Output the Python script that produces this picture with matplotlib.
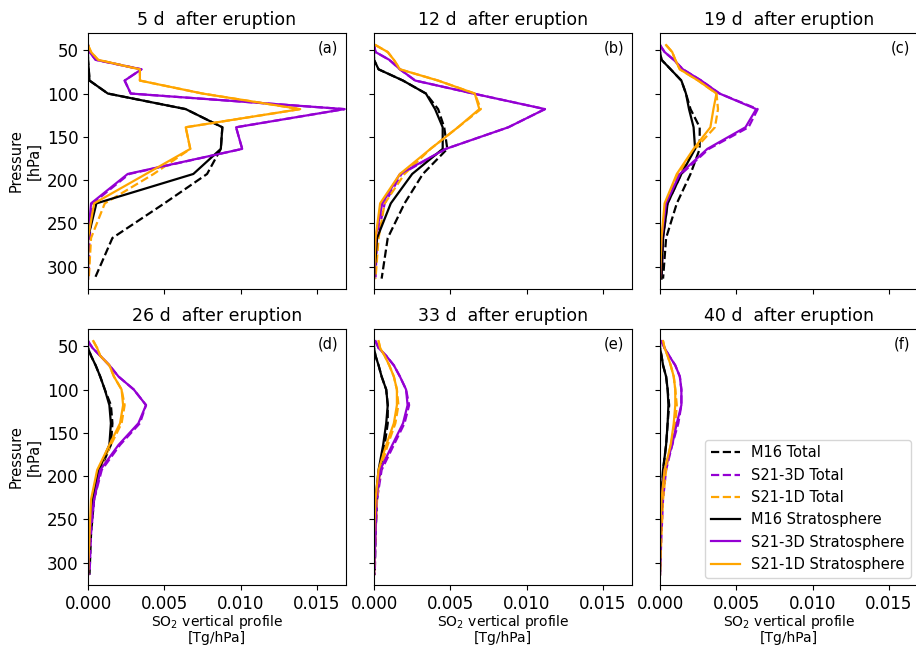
import matplotlib
matplotlib.use("Agg")
import matplotlib.pyplot as plt

# Pressure levels [hPa]
levels = [44, 52, 61, 72, 85, 100, 118, 139, 164, 193, 227, 267, 314]

days = [5, 12, 19, 26, 33, 40]
panel_tags = ["(a)", "(b)", "(c)", "(d)", "(e)", "(f)"]

# SO2 vertical profiles [Tg/hPa], one profile per day (5, 12, 19, 26, 33, 40 d)
m16_total = [
    [0, 0, 0, 0.00005, 0.0001, 0.0013, 0.0064, 0.0088, 0.0087, 0.0078, 0.0050, 0.0016, 0.00044],
    [0, 0, 0.0, 0.0003, 0.0019, 0.0034, 0.0042, 0.0046, 0.0048, 0.0032, 0.0020, 0.0009, 0.0005],
    [0, 0, 0.0001, 0.0007, 0.0014, 0.0017, 0.0020, 0.0026, 0.0026, 0.0020, 0.0011, 0.0004, 0.0002],
    [0, 0, 0.0002, 0.0005, 0.0008, 0.0011, 0.0015, 0.0016, 0.0015, 0.0008, 0.0004, 0.0002, 0.0001],
    [0, 0, 0.0001, 0.0003, 0.0005, 0.0008, 0.0009, 0.0009, 0.0007, 0.0004, 0.0002, 0.0001, 0.00005],
    [0, 0, 0.0001, 0.0002, 0.0004, 0.0005, 0.0006, 0.0005, 0.0004, 0.0002, 0.0001, 0.00005, 0.0],
]
s3d_total = [
    [0, 0.0001, 0.0005, 0.0035, 0.0024, 0.0028, 0.0168, 0.0097, 0.0101, 0.0027, 0.0003, 0.0001, 0.00005],
    [0, 0.0001, 0.0010, 0.0017, 0.0027, 0.0065, 0.0112, 0.0088, 0.0047, 0.0018, 0.0007, 0.0002, 0.0001],
    [0, 0.0003, 0.0009, 0.0015, 0.0027, 0.0039, 0.0064, 0.0058, 0.0032, 0.0014, 0.0005, 0.0002, 0.0001],
    [0, 0.0003, 0.0008, 0.0014, 0.0020, 0.0030, 0.0038, 0.0034, 0.0021, 0.0009, 0.0004, 0.0002, 0.0001],
    [0.0001, 0.0003, 0.0008, 0.0013, 0.0017, 0.0021, 0.0023, 0.0020, 0.0013, 0.0005, 0.0002, 0.0001, 0.00005],
    [0.0001, 0.0003, 0.0006, 0.0010, 0.0013, 0.0014, 0.0014, 0.0012, 0.0008, 0.0004, 0.0002, 0.0001, 0.0],
]
s1d_total = [
    [0, 0.0002, 0.00066, 0.0034, 0.0034, 0.0075, 0.0139, 0.0064, 0.0067, 0.0043, 0.0011, 0.0002, 0.00005],
    [0.0001, 0.0009, 0.0013, 0.0017, 0.0042, 0.0066, 0.0070, 0.0055, 0.0037, 0.0020, 0.0007, 0.0003, 0.0001],
    [0.0004, 0.0008, 0.0010, 0.0013, 0.0025, 0.0037, 0.0038, 0.0036, 0.0023, 0.0012, 0.0004, 0.0001, 0.00005],
    [0.00035, 0.0006, 0.0008, 0.0014, 0.0017, 0.0022, 0.0024, 0.0022, 0.0015, 0.0007, 0.0003, 0.0001, 0.0],
    [0.0003, 0.0004, 0.0007, 0.0010, 0.0013, 0.0015, 0.0016, 0.0014, 0.0009, 0.0004, 0.0002, 0.0001, 0.0],
    [0.0002, 0.0003, 0.0005, 0.0007, 0.0009, 0.0010, 0.0011, 0.0010, 0.0007, 0.0004, 0.0002, 0.0001, 0.0],
]
m16_strat = [
    [0, 0, 0, 0.00005, 0.0001, 0.0013, 0.0064, 0.0088, 0.0087, 0.0069, 0.00055, 0.0, 0.0],
    [0, 0, 0.0, 0.0003, 0.0019, 0.0034, 0.0040, 0.0045, 0.0045, 0.0025, 0.0011, 0.0002, 0.0],
    [0, 0, 0.0001, 0.0007, 0.0014, 0.0017, 0.0019, 0.0022, 0.0023, 0.0014, 0.0005, 0.0002, 0.0001],
    [0, 0, 0.0002, 0.0005, 0.0008, 0.0011, 0.0014, 0.0015, 0.0014, 0.0007, 0.0003, 0.0001, 0.0],
    [0, 0, 0.0001, 0.0003, 0.0005, 0.0008, 0.0009, 0.0008, 0.0006, 0.0003, 0.0001, 0.0, 0.0],
    [0, 0, 0.0001, 0.0002, 0.0004, 0.0005, 0.00055, 0.0005, 0.0004, 0.0002, 0.0001, 0.0, 0.0],
]
s3d_strat = [
    [0, 0.0001, 0.0005, 0.0035, 0.0024, 0.0028, 0.0168, 0.0097, 0.0101, 0.0026, 0.0002, 0.0, 0.0],
    [0, 0.0001, 0.0010, 0.0017, 0.0027, 0.0065, 0.0112, 0.0088, 0.0047, 0.0017, 0.00054, 0.0001, 0.0],
    [0, 0.0003, 0.0009, 0.0015, 0.0027, 0.0039, 0.0063, 0.0056, 0.0031, 0.0013, 0.0004, 0.0001, 0.0],
    [0, 0.0003, 0.0008, 0.0014, 0.0020, 0.0030, 0.0038, 0.0033, 0.0020, 0.0008, 0.0004, 0.0001, 0.0],
    [0.0001, 0.0003, 0.0008, 0.0013, 0.0017, 0.0021, 0.0022, 0.0019, 0.0012, 0.0004, 0.00015, 0.0001, 0.0],
    [0.0001, 0.0003, 0.0006, 0.0010, 0.0013, 0.0014, 0.0014, 0.0011, 0.0008, 0.0003, 0.0001, 0.0, 0.0],
]
s1d_strat = [
    [0, 0.0002, 0.00066, 0.0034, 0.0034, 0.0075, 0.0139, 0.0064, 0.0067, 0.0038, 0.0004, 0.0, 0.0],
    [0.0001, 0.0009, 0.0013, 0.0017, 0.0042, 0.0066, 0.0069, 0.0055, 0.0037, 0.0017, 0.0004, 0.0001, 0.0],
    [0.0004, 0.0008, 0.0010, 0.0013, 0.0025, 0.0037, 0.0035, 0.0033, 0.0022, 0.0011, 0.0003, 0.0001, 0.0],
    [0.00035, 0.0006, 0.0008, 0.0014, 0.0017, 0.0022, 0.0023, 0.0021, 0.0014, 0.0006, 0.0002, 0.0001, 0.0],
    [0.0003, 0.0004, 0.0007, 0.0010, 0.0013, 0.0015, 0.0015, 0.0013, 0.0008, 0.0003, 0.0001, 0.0, 0.0],
    [0.0002, 0.0003, 0.0005, 0.0007, 0.0009, 0.0010, 0.0010, 0.0009, 0.0007, 0.0003, 0.0001, 0.0, 0.0],
]

series = [
    (m16_total, "black", "--", "M16 Total"),
    (s3d_total, "darkviolet", "--", "S21-3D Total"),
    (s1d_total, "orange", "--", "S21-1D Total"),
    (m16_strat, "black", "-", "M16 Stratosphere"),
    (s3d_strat, "darkviolet", "-", "S21-3D Stratosphere"),
    (s1d_strat, "orange", "-", "S21-1D Stratosphere"),
]

yticks = [50, 100, 150, 200, 250, 300]
xticks = [0.0, 0.005, 0.010, 0.015]

fig = plt.figure(figsize=(9.16, 6.46), dpi=100)

W, H = 916.0, 646.0
lefts = [88, 374, 660]
tops = [33, 329]
aw, ah = 258, 256

for i, day in enumerate(days):
    r, c = divmod(i, 3)
    ax = fig.add_axes([lefts[c] / W, 1 - (tops[r] + ah) / H, aw / W, ah / H])
    for data, col, ls, lab in series:
        ax.plot(data[i], levels, color=col, ls=ls, lw=1.6, label=lab)
    ax.set_xlim(0, 0.0169)
    ax.set_ylim(326, 30)
    ax.set_yticks(yticks)
    ax.set_xticks(xticks)
    ax.tick_params(labelsize=12)
    ax.set_title(f"{day} d  after eruption", fontsize=12.5)
    ax.text(0.97, 0.97, panel_tags[i], transform=ax.transAxes, ha="right", va="top",
            fontsize=10.5)
    if c == 0:
        ax.set_ylabel("Pressure\n[hPa]", fontsize=10.5)
    else:
        ax.set_yticklabels([])
    if r == 1:
        ax.set_xticklabels(["0.000", "0.005", "0.010", "0.015"])
        ax.set_xlabel("SO$_2$ vertical profile\n[Tg/hPa]", fontsize=10, labelpad=0,
                      linespacing=1.05)
    else:
        ax.set_xticklabels([])
    if i == 5:
        ax.legend(loc="lower right", fontsize=10.5, framealpha=0.8)

fig.savefig("out.png", dpi=100)
